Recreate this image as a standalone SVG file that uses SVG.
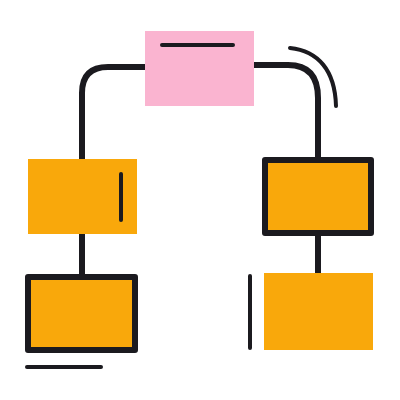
<svg xmlns="http://www.w3.org/2000/svg" width="400" height="400" viewBox="0 0 400 400">
<style>
.c{fill:none;stroke:#1b1a1f;stroke-width:6;stroke-linecap:round;stroke-linejoin:round}
.l{fill:none;stroke:#1b1a1f;stroke-width:4;stroke-linecap:round}
.o{fill:#f9a80b}
.ob{fill:#f9a80b;stroke:#1b1a1f;stroke-width:6;stroke-linejoin:round}
.p{fill:#fab4d0}
</style>
<g id="connectors">
<path class="c" d="M145,67 H108 Q82,67 82,93 V160"/>
<path class="c" d="M82,234 V274"/>
<path class="c" d="M254,65 H288 Q318,65 318,98 V158"/>
<path class="c" d="M318,236 V273"/>
</g>
<g id="top">
<rect class="p" x="145" y="31" width="109" height="75"/>
<line class="l" x1="162" y1="45" x2="233" y2="45"/>
</g>
<g id="arc">
<path class="l" d="M290,48 C318,51 335,70 336,106"/>
</g>
<g id="left1">
<rect class="o" x="28" y="159" width="109" height="75"/>
<line class="l" x1="121" y1="174" x2="121" y2="220"/>
</g>
<g id="left2">
<rect class="ob" x="28" y="277" width="107" height="73"/>
<line class="l" x1="27" y1="367" x2="101" y2="367"/>
</g>
<g id="right1">
<rect class="ob" x="265" y="160" width="106" height="73"/>
</g>
<g id="right2">
<rect class="o" x="264" y="273" width="109" height="77"/>
<line class="l" x1="250" y1="276" x2="250" y2="348"/>
</g>
</svg>
